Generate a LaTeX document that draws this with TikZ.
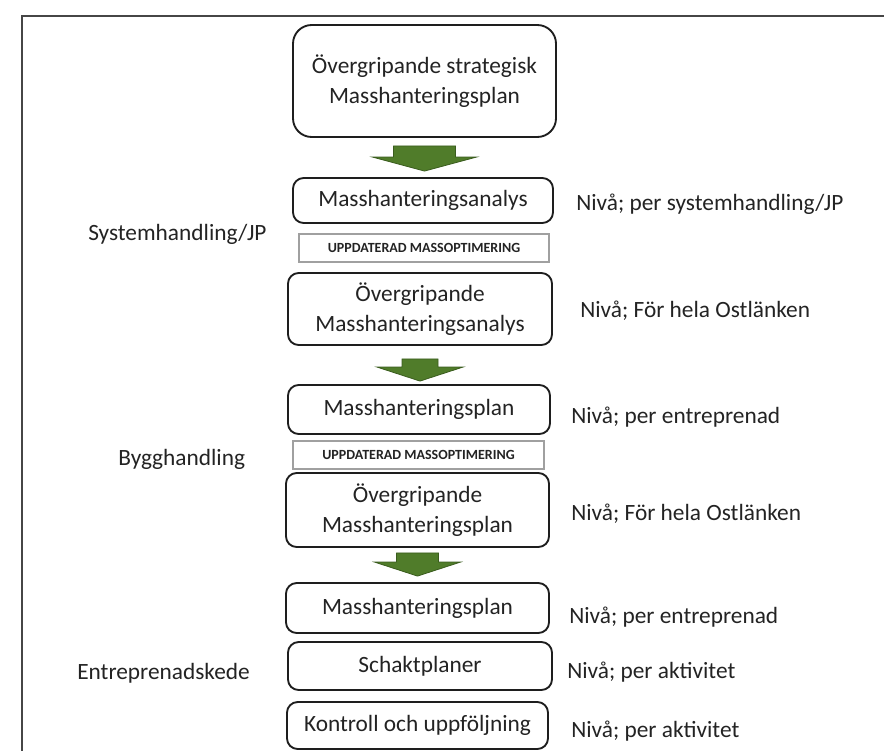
\documentclass[tikz,border=0pt]{standalone}
\usepackage{fontspec}
\setmainfont{Carlito}
\usetikzlibrary{calc}
\definecolor{arrowgreen}{RGB}{80,124,42}
\definecolor{arrowedge}{RGB}{58,92,30}
\definecolor{boxline}{RGB}{30,30,30}
\definecolor{thinline}{RGB}{160,160,160}
\definecolor{framecol}{RGB}{70,70,70}
\definecolor{txt}{RGB}{35,35,35}
\tikzset{
  mainbox/.style={draw=boxline, line width=1.4pt, rounded corners=8pt, align=center,
    inner sep=0pt, text=txt, font=\fontsize{17.5}{22.5}\selectfont},
  updbox/.style={draw=thinline, line width=0.9pt, inner sep=0pt, text=txt,
    font=\fontsize{10.5}{12}\selectfont\bfseries},
  sz/.style 2 args={minimum width=#1*0.75pt, minimum height=#2*0.75pt},
  lbl/.style={anchor=base west, inner sep=0pt, text=txt, font=\fontsize{17.5}{21}\selectfont},
  grarrow/.style={fill=arrowgreen, draw=arrowedge, line width=0.6pt, line join=miter}
}
\newcommand\grarrow[6]{%
  \coordinate (gA) at ($(#1.south)+(0,#3)$);
  \coordinate (gT0) at ($(#2.north)+(0,-#4)$);
  \coordinate (gT) at (gA |- gT0);
  \path[grarrow] ($(gA)+(-#5,0)$) -- ($(gA)+(#5,0)$) -- ($(gT)+(#5,-14)$)
    -- ($(gT)+(#6,-14)$) -- (gT) -- ($(gT)+(-#6,-14)$) -- ($(gT)+(-#5,-14)$) -- cycle;}
\begin{document}
\begin{tikzpicture}[x=0.75pt, y=-0.75pt]
\useasboundingbox (0,0) rectangle (884,750);
% frame
\draw[framecol, line width=1.5pt] (22,752) -- (22,16) -- (886,16);
% boxes
\node[mainbox, sz={263}{112}, rounded corners=14pt] (b1) at (424.5,81) {Övergripande strategisk\\Masshanteringsplan};
\node[mainbox, sz={260}{45}] (b2) at (423,200.5) {Masshanteringsanalys};
\node[updbox, sz={250}{28}] (u1) at (424,248) {UPPDATERAD MASSOPTIMERING};
\node[mainbox, sz={264}{72}] (b3) at (420,309) {Övergripande\\Masshanteringsanalys};
\node[mainbox, sz={262}{49}] (b4) at (419,409.5) {Masshanteringsplan};
\node[updbox, sz={251}{28}] (u2) at (418.5,455) {UPPDATERAD MASSOPTIMERING};
\node[mainbox, sz={263}{74}] (b5) at (417.5,510) {Övergripande\\Masshanteringsplan};
\node[mainbox, sz={263}{50}] (b6) at (417.5,608) {Masshanteringsplan};
\node[mainbox, sz={264}{48}] (b7) at (420,666) {Schaktplaner};
\node[mainbox, sz={261}{47}] (b8) at (417.5,725.5) {Kontroll och uppföljning};
% arrows
\grarrow{b1}{b2}{8}{6}{31}{52}
\grarrow{b3}{b4}{13}{3}{18}{43}
\grarrow{b5}{b6}{5}{6}{21}{43}
% right labels
\node[lbl] (r1) at (576,210) {Nivå; per systemhandling/JP};
\node[lbl] (r2) at (580,317) {Nivå; För hela Ostlänken};
\node[lbl] (r3) at (571,423) {Nivå; per entreprenad};
\node[lbl] (r4) at (571,520) {Nivå; För hela Ostlänken};
\node[lbl] (r5) at (569,623) {Nivå; per entreprenad};
\node[lbl] (r6) at (567,678) {Nivå; per aktivitet};
\node[lbl] (r7) at (571,737) {Nivå; per aktivitet};
% left labels
\node[lbl] (l1) at (88,240) {Systemhandling/JP};
\node[lbl] (l2) at (118,465) {Bygghandling};
\node[lbl] (l3) at (77,679) {Entreprenadskede};
\end{tikzpicture}
\end{document}
